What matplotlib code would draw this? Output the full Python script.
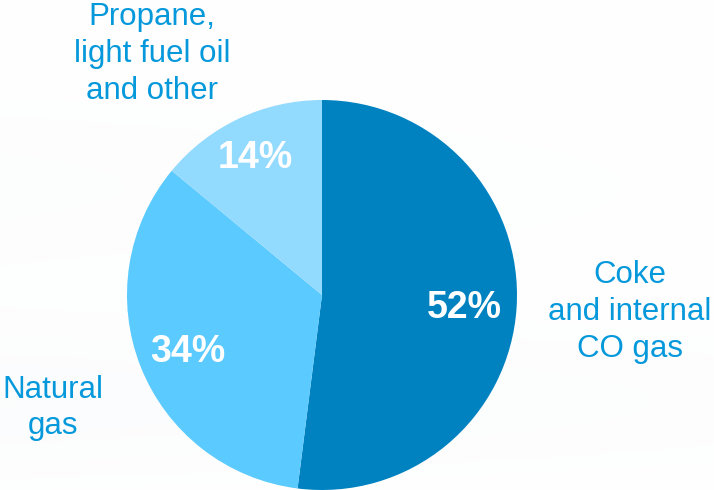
import numpy as np
import matplotlib
matplotlib.use("Agg")
import matplotlib.pyplot as plt

plt.rcParams['font.family'] = ['Liberation Sans', 'DejaVu Sans']

# data
categories = ["Coke\nand internal\nCO gas", "Natural\ngas", "Propane,\nlight fuel oil\nand other"]
shares = [52, 34, 14]
colors = ["#0082C1", "#5BCAFF", "#93DAFF"]
label_color = "#0599DC"

fig = plt.figure(figsize=(7.14, 4.90), dpi=100)
ax = fig.add_axes([0, 0, 1, 1])

# soft sky-like background
yy = np.linspace(0, 1, 200)[:, None]
xx = np.linspace(0, 1, 300)[None, :]
haze = 0.06 * np.exp(-((yy - 0.18) / 0.16) ** 2) * (1.2 - 0.6 * xx) \
    + 0.04 * np.exp(-((yy - 0.62) / 0.2) ** 2) * (1.1 - 0.7 * xx)
base = np.array([1.0, 1.0, 1.0])
tint = np.array([0.80, 0.85, 0.89])
img = base[None, None, :] * (1 - haze[..., None]) + tint[None, None, :] * haze[..., None]
ax.imshow(img, extent=[0, 714, 0, 490], origin="lower", aspect="auto", zorder=0)

cx, cy, r = 322, 195, 195
wedges, texts, autotexts = ax.pie(
    shares, colors=colors, startangle=90, counterclock=False,
    center=(cx, cy), radius=r, autopct="%d%%", pctdistance=0.73,
    wedgeprops=dict(linewidth=0), textprops=dict(color="white", fontsize=27, fontweight="bold"))

# percent labels: small slice label sits further out
dists = [0.73, 0.74, 0.8]
for w, t, d in zip(wedges, autotexts, dists):
    ang = np.deg2rad((w.theta1 + w.theta2) / 2)
    t.set_position((cx + d * r * np.cos(ang), cy + d * r * np.sin(ang) - 4))
    t.set_zorder(5)

label_pos = [(630, 178), (53, 82), (152, 436)]
for lab, (x, y) in zip(categories, label_pos):
    ax.text(x, y, lab, ha="center", va="center", fontsize=22.5, color=label_color,
            linespacing=1.3, zorder=5)

ax.set_xlim(0, 714)
ax.set_ylim(0, 490)
ax.axis("off")

fig.savefig("out.png", dpi=100)
